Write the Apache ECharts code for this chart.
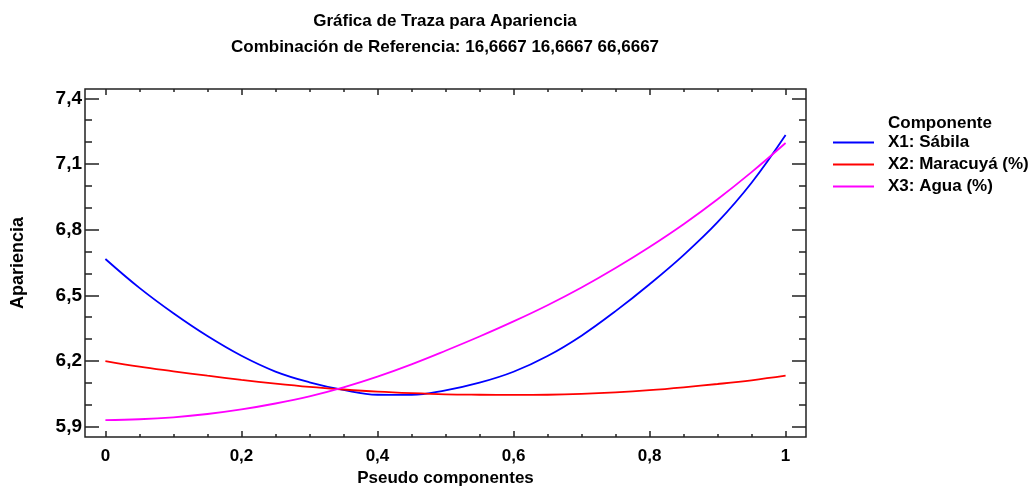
<!DOCTYPE html>
<html>
<head>
<meta charset="utf-8">
<script src="https://cdn.jsdelivr.net/npm/echarts@6/dist/echarts.min.js"></script>
<style>
  html, body { margin: 0; padding: 0; background: #fff; }
  #chart { width: 1035px; height: 487px; }
</style>
</head>
<body>
<div id="chart"></div>
<script>
// Pseudo-component proportion along each trace (0 .. 1 in steps of 0.05)
const xValues = [0, 0.05, 0.1, 0.15, 0.2, 0.25, 0.3, 0.35, 0.4, 0.45, 0.5,
                 0.55, 0.6, 0.65, 0.7, 0.75, 0.8, 0.85, 0.9, 0.95, 1];

// Predicted "Apariencia" along each component's trace
const sabila   = [6.666, 6.534, 6.418, 6.314, 6.224, 6.152, 6.103, 6.068, 6.046, 6.045, 6.066,
                  6.101, 6.151, 6.223, 6.316, 6.428, 6.551, 6.684, 6.834, 7.014, 7.232];
const maracuya = [6.200, 6.174, 6.153, 6.133, 6.114, 6.097, 6.082, 6.070, 6.060, 6.053, 6.048,
                  6.046, 6.045, 6.046, 6.050, 6.057, 6.067, 6.080, 6.095, 6.112, 6.133];
const agua     = [5.930, 5.934, 5.943, 5.958, 5.979, 6.006, 6.039, 6.080, 6.129, 6.185, 6.247,
                  6.312, 6.381, 6.455, 6.536, 6.625, 6.721, 6.825, 6.939, 7.063, 7.196];

const seriesNames = ['X1: Sábila', 'X2: Maracuyá (%)', 'X3: Agua (%)'];
const seriesColors = ['#0000ff', '#ff0000', '#ff00ff'];

// Tick positions
const xMajor = [0, 0.2, 0.4, 0.6, 0.8, 1];
const xMinor = [0.05, 0.1, 0.15, 0.25, 0.3, 0.35, 0.45, 0.5, 0.55, 0.65, 0.7, 0.75, 0.85, 0.9, 0.95];
const yMajor = [5.9, 6.2, 6.5, 6.8, 7.1, 7.4];
const yMinor = [6.0, 6.1, 6.3, 6.4, 6.6, 6.7, 6.9, 7.0, 7.2, 7.3];

const X_MIN = -0.03, X_MAX = 1.03;
const Y_MIN = 5.853, Y_MAX = 7.4425;

const FONT = '"Liberation Sans", Arial, sans-serif';
const comma = v => String(Math.round(v * 10) / 10).replace('.', ',');
const TICK_COLOR = '#222';

function xAxis(position, values, len, labels) {
  return {
    type: 'value', position, min: X_MIN, max: X_MAX,
    axisLine: { show: false, onZero: false },
    splitLine: { show: false },
    axisTick: { show: true, inside: true, length: len, customValues: values,
                lineStyle: { color: TICK_COLOR, width: 1.5 } },
    axisLabel: labels ? {
      show: true, customValues: values, formatter: comma, margin: 11,
      fontFamily: FONT, fontWeight: 'bold', fontSize: 17, color: '#000'
    } : { show: false },
    name: labels ? 'Pseudo componentes' : '',
    nameLocation: 'middle', nameGap: 33,
    nameTextStyle: { fontFamily: FONT, fontWeight: 'bold', fontSize: 17, color: '#000' }
  };
}
function yAxis(position, values, len, labels) {
  return {
    type: 'value', position, min: Y_MIN, max: Y_MAX,
    axisLine: { show: false, onZero: false },
    splitLine: { show: false },
    axisTick: { show: true, inside: true, length: len, customValues: values,
                lineStyle: { color: TICK_COLOR, width: 1.5 } },
    axisLabel: labels ? {
      show: true, customValues: values, formatter: comma, margin: 3,
      fontFamily: FONT, fontWeight: 'bold', fontSize: 19, color: '#000'
    } : { show: false },
    name: labels ? 'Apariencia' : '',
    nameLocation: 'middle', nameGap: 58,
    nameTextStyle: { fontFamily: FONT, fontWeight: 'bold', fontSize: 18, color: '#000' }
  };
}

const chart = echarts.init(document.getElementById('chart'));
chart.setOption({
  backgroundColor: '#fff',
  animation: false,
  title: [
    {
      text: 'Gráfica de Traza para Apariencia\nCombinación de Referencia: 16,6667 16,6667 66,6667',
      left: 440, top: 3, textAlign: 'center',
      textStyle: { fontFamily: FONT, fontWeight: 'bold', fontSize: 17, lineHeight: 26, color: '#000' }
    },
    {
      text: 'Componente', left: 883, top: 110,
      textStyle: { fontFamily: FONT, fontWeight: 'bold', fontSize: 17, color: '#000' }
    }
  ],
  legend: {
    orient: 'vertical', left: 828, top: 129,
    icon: 'rect', itemWidth: 41, itemHeight: 2, itemGap: 5,
    textStyle: { fontFamily: FONT, fontWeight: 'bold', fontSize: 17, lineHeight: 17, color: '#000',
                 padding: [0, 0, 0, 9] },
    data: seriesNames
  },
  grid: {
    left: 85, top: 89, right: 229, bottom: 50,
    outerBoundsMode: 'none',
    show: true, borderColor: '#222', borderWidth: 1.5, backgroundColor: 'transparent'
  },
  xAxis: [
    xAxis('bottom', xMajor, 6, true),
    xAxis('bottom', xMinor, 3, false),
    xAxis('top', xMajor, 6, false),
    xAxis('top', xMinor, 3, false)
  ],
  yAxis: [
    yAxis('left', yMajor, 14, true),
    yAxis('left', yMinor, 7, false),
    yAxis('right', yMajor, 14, false),
    yAxis('right', yMinor, 7, false)
  ],
  series: [sabila, maracuya, agua].map((vals, i) => ({
    name: seriesNames[i],
    type: 'line',
    xAxisIndex: 0, yAxisIndex: 0,
    data: xValues.map((x, j) => [x, vals[j]]),
    smooth: 0.4,
    showSymbol: false,
    color: seriesColors[i],
    lineStyle: { width: 1.8, color: seriesColors[i] }
  }))
});
</script>
</body>
</html>
